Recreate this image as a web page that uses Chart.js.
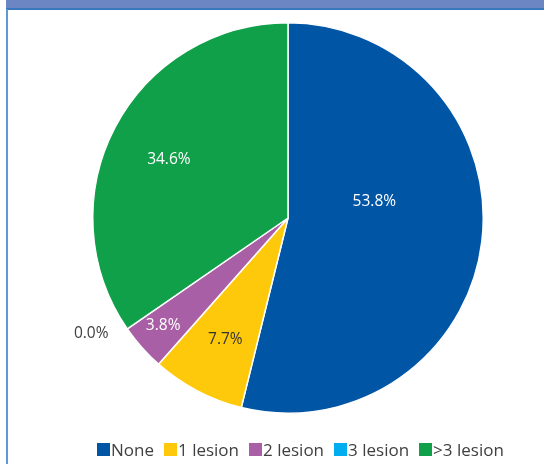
<!DOCTYPE html>
<html>
<head>
<meta charset="utf-8">
<script src="https://cdn.jsdelivr.net/npm/chart.js@4"></script>
<style>
    html, body { margin: 0; padding: 0; background: #fff; }
    #frame { position: relative; width: 544px; height: 466px; overflow: hidden; font-family: "Open Sans", "Noto Sans", sans-serif; }
    #topBar { position: absolute; left: 6px; top: 0; width: 538px; height: 8px; background: #6c86c4; border-bottom: 2px solid #3a78bd; }
    #sideLine { position: absolute; left: 6px; top: 9px; width: 2px; height: 455px; background: #5b9bd5; }
    #graphic { position: absolute; left: 0; top: 0; width: 544px; height: 466px; }
    #legend { position: absolute; left: 97px; top: 438px; display: flex; align-items: center; font-size: 17px; color: #404040; }
    #legend .item { display: flex; align-items: center; margin-right: 10px; }
    #legend .box { width: 13px; height: 13px; margin-right: 1px; }
</style>
</head>
<body>
<div id="frame">
    <div id="topBar"></div>
    <div id="sideLine"></div>
    <div id="graphic"><canvas id="pie"></canvas></div>
    <div id="legend"></div>
</div>
<script>
const categories = ['None', '1 lesion', '2 lesion', '3 lesion', '>3 lesion'];
const patientCounts = [14, 2, 1, 0, 9];
const sliceColors = ['#0055a5', '#ffc90b', '#a95fa5', '#00adef', '#10a04a'];

// where each percentage label sits: fraction of the radius, and a turn (degrees) off the slice middle
const labelRadius = [0.45, 0.70, 0.845, 1.17, 0.68];
const labelTurn = [-17.6, -0.4, 0.7, 4.1, -1.5];
const labelColors = ['#ffffff', '#333333', '#ffffff', '#404040', '#ffffff'];

const total = patientCounts.reduce((a, b) => a + b, 0);

const percentLabels = {
    id: 'percentLabels',
    afterDatasetsDraw(chart) {
        const ctx = chart.ctx;
        const arcs = chart.getDatasetMeta(0).data;
        ctx.save();
        ctx.font = '15.5px "Open Sans", "Noto Sans", sans-serif';
        ctx.textAlign = 'center';
        ctx.textBaseline = 'middle';
        arcs.forEach((arc, i) => {
            const mid = (arc.startAngle + arc.endAngle) / 2 + labelTurn[i] * Math.PI / 180;
            const r = arc.outerRadius * labelRadius[i];
            const text = (patientCounts[i] / total * 100).toFixed(1) + '%';
            ctx.fillStyle = labelColors[i];
            ctx.fillText(text, arc.x + Math.cos(mid) * r, arc.y + Math.sin(mid) * r);
        });
        ctx.restore();
    }
};

const config = {
    type: 'pie',
    data: {
        labels: categories,
        datasets: [{
            data: patientCounts,
            backgroundColor: sliceColors,
            borderColor: '#ffffff',
            borderWidth: 1.5
        }]
    },
    options: {
        responsive: true,
        maintainAspectRatio: false,
        animation: false,
        layout: { padding: { left: 92, right: 60, top: 22, bottom: 52 } },
        plugins: {
            legend: { display: false },
            tooltip: { enabled: false }
        }
    },
    plugins: [percentLabels]
};

new Chart(document.querySelector('#pie'), config);

// legend drawn as plain html so the boxes can sit tight against the text
const legend = document.querySelector('#legend');
legend.innerHTML = categories
    .map((name, i) => `<div class="item"><span class="box" style="background:${sliceColors[i]}"></span><span>${name}</span></div>`)
    .join('');
</script>
</body>
</html>
